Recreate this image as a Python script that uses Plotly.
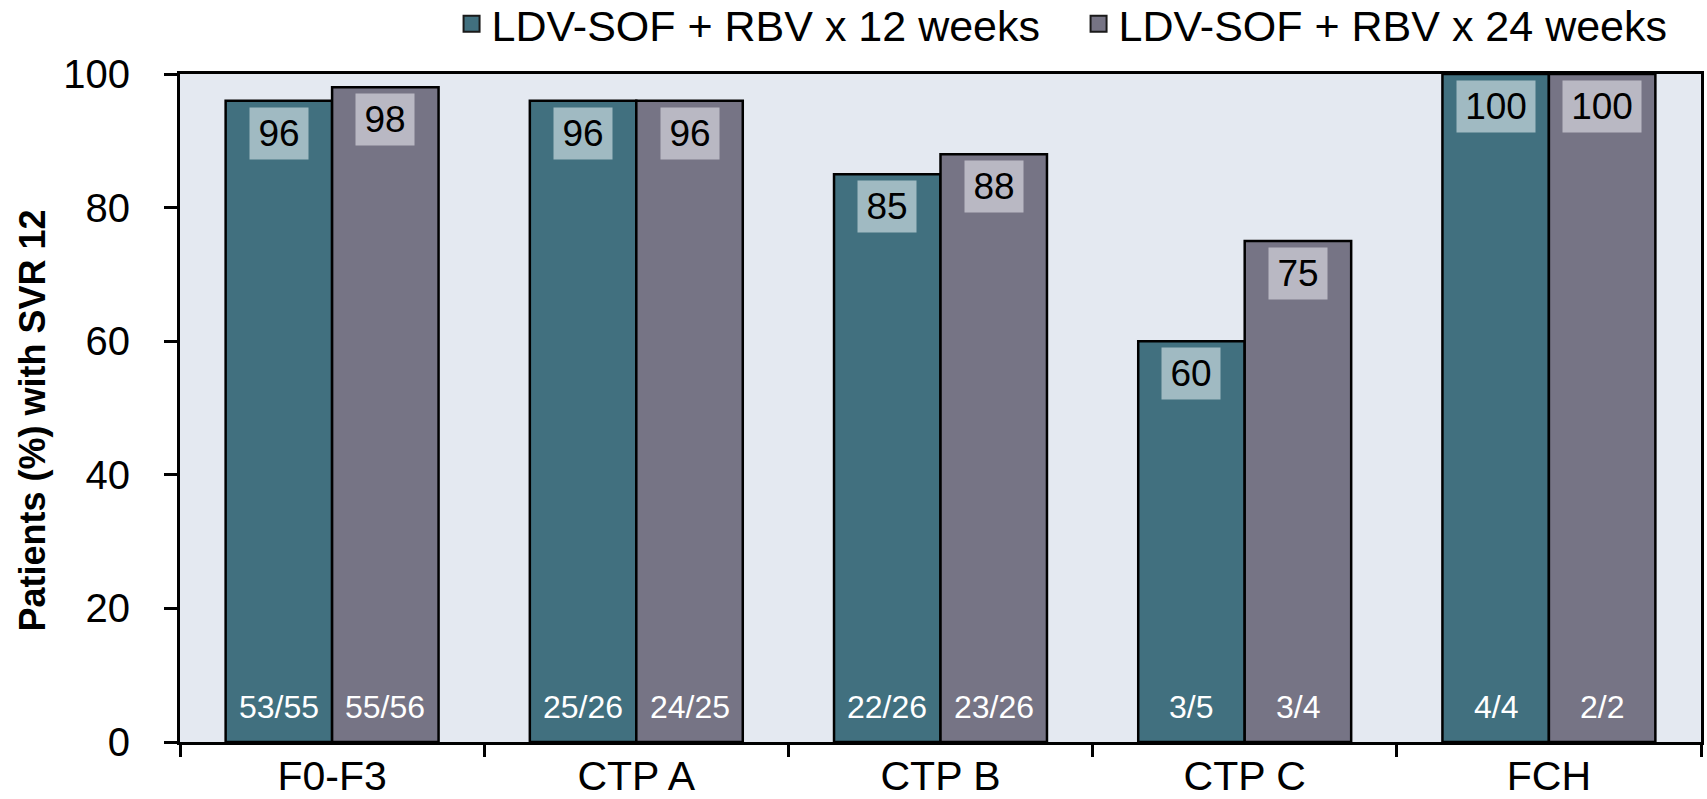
import plotly.graph_objects as go

categories = ["F0-F3", "CTP A", "CTP B", "CTP C", "FCH"]
svr_12wk = [96, 96, 85, 60, 100]
svr_24wk = [98, 96, 88, 75, 100]
n_12wk = ["53/55", "25/26", "22/26", "3/5", "4/4"]
n_24wk = ["55/56", "24/25", "23/26", "3/4", "2/2"]
series_names = ["LDV-SOF + RBV x 12 weeks", "LDV-SOF + RBV x 24 weeks"]
y_ticks = [0, 20, 40, 60, 80, 100]
y_title = "Patients (%) with SVR 12"

TEAL = "#41707F"
GREY = "#767485"
TEAL_BOX = "#A0BAC2"
GREY_BOX = "#B9B8C3"
FONT = "Liberation Sans, Arial, sans-serif"

BARGAP = 0.3
half = (1 - BARGAP) / 4  # offset of each bar centre from category centre

fig = go.Figure()
for vals, col in [(svr_12wk, TEAL), (svr_24wk, GREY)]:
    fig.add_trace(go.Bar(
        x=categories, y=vals, showlegend=False,
        marker=dict(color=col, line=dict(color="black", width=2.5)),
        hoverinfo="x+y",
    ))
# legend-only entries (bigger square symbol)
for name, col in zip(series_names, [TEAL, GREY]):
    fig.add_trace(go.Scatter(
        x=[None], y=[None], mode="markers", name=name,
        marker=dict(symbol="square", size=23, color=col,
                    line=dict(color="#1a1a1a", width=2)),
    ))

annotations = []
for i, cat in enumerate(categories):
    for vals, ns, box, sign in [(svr_12wk, n_12wk, TEAL_BOX, -1),
                                (svr_24wk, n_24wk, GREY_BOX, 1)]:
        lab = str(vals[i])
        annotations.append(dict(
            x=i + sign * half, y=vals[i], xref="x", yref="y",
            text=lab, showarrow=False, yanchor="top", yshift=-6,
            font=dict(size=37, color="black", family=FONT),
            bgcolor=box, borderpad=3, width=len(lab) * 20 + 12, height=45,
        ))
        annotations.append(dict(
            x=i + sign * half, y=0, xref="x", yref="y",
            text=ns[i], showarrow=False, yanchor="middle", yshift=35,
            font=dict(size=32, color="white", family=FONT),
        ))
# y-axis title
annotations.append(dict(
    x=-0.097, y=0.482, xref="paper", yref="paper", textangle=-90,
    text=f"<b>{y_title}</b>", showarrow=False, xanchor="center", yanchor="middle",
    font=dict(size=36, color="black", family=FONT),
))

fig.update_layout(
    width=1707, height=799,
    margin=dict(l=180, r=6, t=74, b=57, autoexpand=False),
    paper_bgcolor="white", plot_bgcolor="#E4E9F1",
    barmode="group", bargap=BARGAP, bargroupgap=0,
    font=dict(family=FONT, color="black"),
    showlegend=True,
    legend=dict(orientation="h", x=1.003, xanchor="right",
                y=1.075, yanchor="middle",
                entrywidth=582, entrywidthmode="pixels",
                font=dict(size=43, family=FONT), bgcolor="rgba(0,0,0,0)",
                itemclick=False, tracegroupgap=0),
    annotations=annotations,
)
fig.update_xaxes(
    type="category", showline=True, linecolor="black", linewidth=3, mirror=True,
    ticks="outside", tickson="boundaries", ticklen=12, tickwidth=3, tickcolor="black",
    tickfont=dict(size=41, family=FONT), showgrid=False, ticklabelstandoff=-4,
)
fig.update_yaxes(
    range=[0, 100], tickvals=y_ticks, showline=True, linecolor="black", linewidth=3,
    mirror=True, ticks="outside", ticklen=13, tickwidth=3, tickcolor="black",
    tickfont=dict(size=40, family=FONT), showgrid=False, zeroline=False,
    ticklabelstandoff=26,
)

fig.write_html(
    "out.html",
    config={"displayModeBar": False},
    post_script="document.body.style.margin='0';document.body.style.overflow='hidden';",
)
